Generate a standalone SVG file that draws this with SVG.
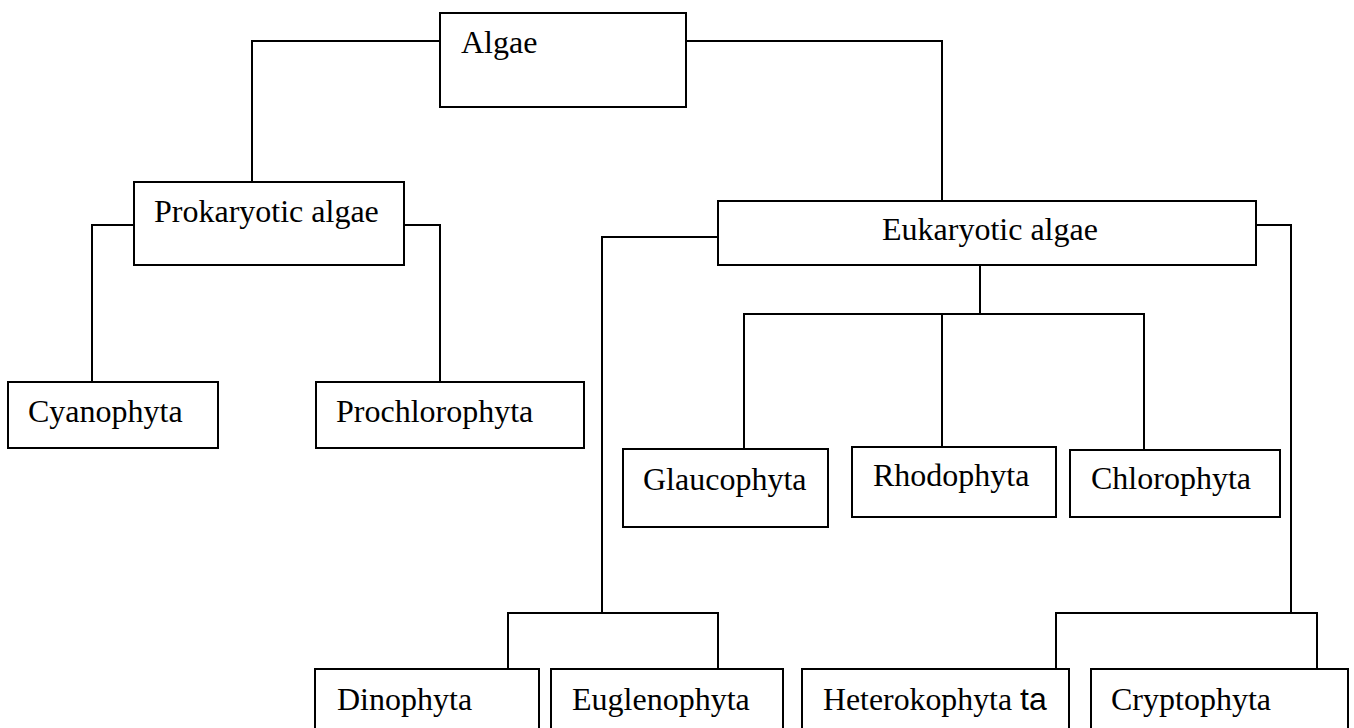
<svg xmlns="http://www.w3.org/2000/svg" width="1354" height="728" viewBox="0 0 1354 728">
<style>
.box{fill:#fff;stroke:#000;stroke-width:2}
.lbl{font-family:"Liberation Serif","Times New Roman",serif;font-size:32px;fill:#000}
.sans{font-family:"Liberation Sans",Arial,sans-serif}
.con{fill:none;stroke:#000;stroke-width:2}
</style>
<rect width="1354" height="728" fill="#fff"/>
<g id="connectors" class="con">
<path d="M440,41 H252 V182"/>
<path d="M686,41 H942 V201"/>
<path d="M134,225 H92 V382"/>
<path d="M404,225 H440 V382"/>
<path d="M718,237 H602 V613"/>
<path d="M1256,225 H1291 V613"/>
<path d="M980,265 V314"/>
<path d="M744,449 V314 H1144 V450"/>
<path d="M942,314 V447"/>
<path d="M508,669 V613 H718 V669"/>
<path d="M1056,669 V613 H1317 V669"/>
</g>
<g id="algae"><rect class="box" x="440" y="13" width="246" height="94"/><text class="lbl" x="461" y="53">Algae</text></g>
<g id="prokaryotic"><rect class="box" x="134" y="182" width="270" height="83"/><text class="lbl" x="154" y="222">Prokaryotic algae</text></g>
<g id="eukaryotic"><rect class="box" x="718" y="201" width="538" height="64"/><text class="lbl" x="882" y="240">Eukaryotic algae</text></g>
<g id="cyanophyta"><rect class="box" x="8" y="382" width="210" height="66"/><text class="lbl" x="28" y="422">Cyanophyta</text></g>
<g id="prochlorophyta"><rect class="box" x="316" y="382" width="268" height="66"/><text class="lbl" x="336" y="422">Prochlorophyta</text></g>
<g id="glaucophyta"><rect class="box" x="623" y="449" width="205" height="78"/><text class="lbl" x="643" y="490">Glaucophyta</text></g>
<g id="rhodophyta"><rect class="box" x="852" y="447" width="204" height="70"/><text class="lbl" x="873" y="486">Rhodophyta</text></g>
<g id="chlorophyta"><rect class="box" x="1070" y="450" width="210" height="67"/><text class="lbl" x="1091" y="489">Chlorophyta</text></g>
<g id="dinophyta"><rect class="box" x="315" y="669" width="224" height="72"/><text class="lbl" x="337" y="710">Dinophyta</text></g>
<g id="euglenophyta"><rect class="box" x="551" y="669" width="232" height="72"/><text class="lbl" x="572" y="710">Euglenophyta</text></g>
<g id="heterokophyta"><rect class="box" x="802" y="669" width="267" height="72"/><text class="lbl" x="823" y="710"><tspan textLength="189" lengthAdjust="spacingAndGlyphs">Heterokophyta</tspan><tspan class="sans" x="1020">ta</tspan></text></g>
<g id="cryptophyta"><rect class="box" x="1091" y="669" width="257" height="72"/><text class="lbl" x="1111" y="710">Cryptophyta</text></g>
</svg>
